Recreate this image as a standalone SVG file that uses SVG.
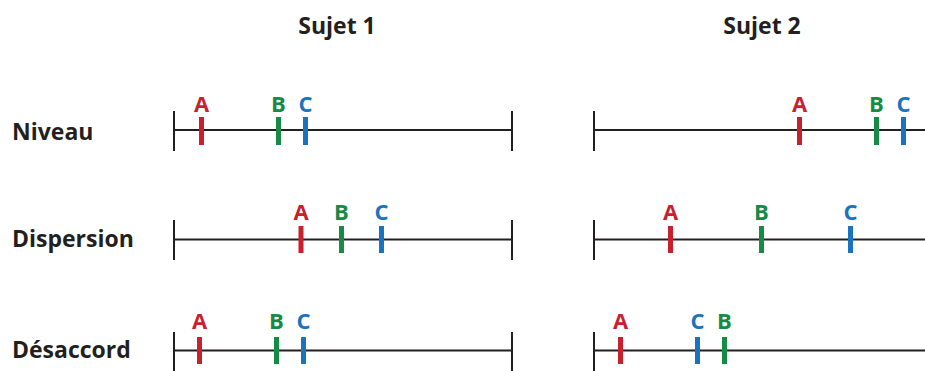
<svg xmlns="http://www.w3.org/2000/svg" width="925" height="371" viewBox="0 0 925 371">
<style>
.t{font-family:"Open Sans","Liberation Sans",sans-serif;font-weight:700;fill:#231f20;font-size:23px}
.lb{font-family:"Open Sans","Liberation Sans",sans-serif;font-weight:700;font-size:22px;text-anchor:middle}
.axis{stroke:#231f20;stroke-width:2;fill:none}
.a{stroke:#c8202f;stroke-width:5}
.b{stroke:#178a45;stroke-width:5}
.c{stroke:#1a73bf;stroke-width:5}
.ta{fill:#c8202f}.tb{fill:#178a45}.tc{fill:#1a73bf}
</style>
<g id="titles">
<text class="t" x="337" y="34" text-anchor="middle">Sujet 1</text>
<text class="t" x="762" y="34" text-anchor="middle">Sujet 2</text>
</g>
<g id="row-labels">
<text class="t" x="12" y="140">Niveau</text>
<text class="t" x="12" y="247">Dispersion</text>
<text class="t" x="12" y="358">Désaccord</text>
</g>
<g id="axes">
<path class="axis" d="M174 130H512M174 111V151M512 111V151M594 130H925M594 111V151"/>
<path class="axis" d="M174 239.5H512M174 220V260M512 220V260M594 239.5H925M594 220V260"/>
<path class="axis" d="M174 350.5H512M174 332V371M512 332V371M594 350.5H925M594 332V371"/>
</g>
<g id="s1-niveau">
<line class="a" x1="201.5" y1="117" x2="201.5" y2="145"/><text class="lb ta" x="201.5" y="112">A</text>
<line class="b" x1="278.5" y1="117" x2="278.5" y2="145"/><text class="lb tb" x="278.5" y="112">B</text>
<line class="c" x1="305.5" y1="117" x2="305.5" y2="145"/><text class="lb tc" x="305.5" y="112">C</text>
</g>
<g id="s2-niveau">
<line class="a" x1="799.5" y1="117" x2="799.5" y2="145"/><text class="lb ta" x="799.5" y="112">A</text>
<line class="b" x1="876.5" y1="117" x2="876.5" y2="145"/><text class="lb tb" x="876.5" y="112">B</text>
<line class="c" x1="903.5" y1="117" x2="903.5" y2="145"/><text class="lb tc" x="903.5" y="112">C</text>
</g>
<g id="s1-dispersion">
<line class="a" x1="301" y1="226" x2="301" y2="253"/><text class="lb ta" x="301" y="220">A</text>
<line class="b" x1="341.5" y1="226" x2="341.5" y2="253"/><text class="lb tb" x="341.5" y="220">B</text>
<line class="c" x1="381.5" y1="226" x2="381.5" y2="253"/><text class="lb tc" x="381.5" y="220">C</text>
</g>
<g id="s2-dispersion">
<line class="a" x1="670.5" y1="226" x2="670.5" y2="253"/><text class="lb ta" x="670.5" y="220">A</text>
<line class="b" x1="761.5" y1="226" x2="761.5" y2="253"/><text class="lb tb" x="761.5" y="220">B</text>
<line class="c" x1="850.5" y1="226" x2="850.5" y2="253"/><text class="lb tc" x="850.5" y="220">C</text>
</g>
<g id="s1-desaccord">
<line class="a" x1="199.5" y1="337" x2="199.5" y2="364"/><text class="lb ta" x="199.5" y="329">A</text>
<line class="b" x1="276.5" y1="337" x2="276.5" y2="364"/><text class="lb tb" x="276.5" y="329">B</text>
<line class="c" x1="303.5" y1="337" x2="303.5" y2="364"/><text class="lb tc" x="303.5" y="329">C</text>
</g>
<g id="s2-desaccord">
<line class="a" x1="620.5" y1="337" x2="620.5" y2="364"/><text class="lb ta" x="620.5" y="329">A</text>
<line class="c" x1="697.5" y1="337" x2="697.5" y2="364"/><text class="lb tc" x="697.5" y="329">C</text>
<line class="b" x1="724.5" y1="337" x2="724.5" y2="364"/><text class="lb tb" x="724.5" y="329">B</text>
</g>
</svg>
